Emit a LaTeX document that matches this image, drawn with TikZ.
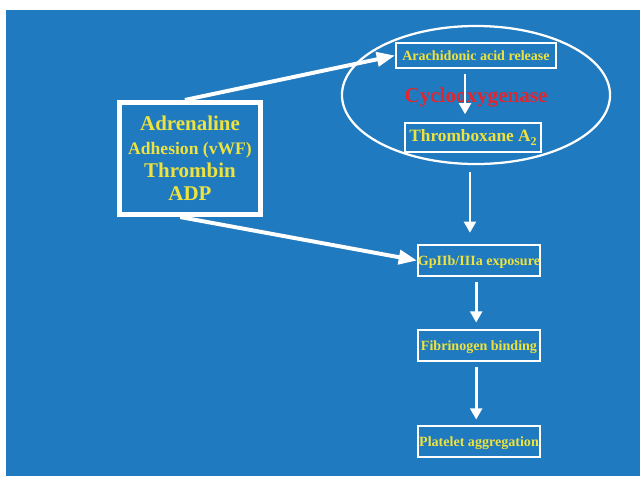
\documentclass[tikz,border=0pt]{standalone}
\usepackage{fontspec}
\setmainfont{Liberation Serif}
\usetikzlibrary{arrows.meta,shapes.geometric}
\definecolor{slideblue}{RGB}{31,122,191}
\definecolor{txtyellow}{RGB}{238,226,62}
\definecolor{coxred}{RGB}{226,38,48}
\begin{document}
\begin{tikzpicture}[x=0.025cm, y=-0.025cm,
  box/.style={draw=white, line width=1.4pt, inner sep=0pt, minimum width=3.05cm, minimum height=0.775cm,
    text=txtyellow, font=\fontsize{10}{12}\selectfont\bfseries},
  bigbox/.style={draw=white, line width=3.6pt, minimum width=3.525cm, minimum height=2.8cm, align=center,
    text=txtyellow, font=\fontsize{14.9}{16.6}\selectfont\bfseries},
  ring/.style={ellipse, draw=white, line width=1.6pt, minimum width=6.7cm, minimum height=3.45cm, inner sep=0pt,
    text=coxred, font=\fontsize{15}{18}\selectfont\bfseries},
  arr/.style={draw=white, line width=1.9pt, -{Triangle[width=8.5pt, length=8pt]}},
  bigarr/.style={draw=white, line width=2.8pt, -{Triangle[width=10pt, length=13pt]}}
]
%% Slide background
\useasboundingbox (0,0) rectangle (640,476);
\fill[slideblue] (6,10) rectangle (640,476);

%% Cyclooxygenase pathway
\node[ring, text depth=0pt] (cox) at (476,95) {Cyclooxygenase};
\node[box, minimum width=4cm, minimum height=0.625cm] (arach) at (476,55.5) {Arachidonic acid release};
\node[box, minimum width=3.4cm, minimum height=0.725cm, font=\fontsize{12.3}{14}\selectfont\bfseries] (txa) at (473,137.5)
  {Thromboxane A\raisebox{-0.45ex}{\fontsize{8.5}{9}\selectfont 2}};

%% Activation chain
\node[box, text depth=0pt] (gp)  at (479,260.5) {GpIIb/IIIa exposure};
\node[box, text depth=0pt] (fib) at (479,345.5) {Fibrinogen binding};
\node[box, text depth=0pt] (plt) at (479,441.5) {Platelet aggregation};

%% Agonists
\node[bigbox] (agon) at (190,158.5) {Adrenaline\\{\fontsize{12.5}{16.6}\selectfont Adhesion (vWF)}\\Thrombin\\ADP};

%% Arrows
\draw[bigarr] ([xshift=-3.6pt]agon.north) -- (arach.west);
\draw[bigarr] ([xshift=-7pt]agon.south) -- (gp.west);
\draw[arr, shorten <=3.5pt, shorten >=5.5pt] ([xshift=-7.8pt]arach.south) -- ([xshift=-7.8pt]arach.south |- txa.north);
\draw[arr, shorten <=5pt, shorten >=8pt] ([xshift=-4.3pt]cox.south) -- ([xshift=-4.3pt]cox.south |- gp.north);
\draw[arr, shorten <=3.9pt, shorten >=4.6pt] ([xshift=-2pt]gp.south) -- ([xshift=-2pt]fib.north);
\draw[arr, shorten <=3.9pt, shorten >=3.9pt] ([xshift=-2pt]fib.south) -- ([xshift=-2pt]plt.north);
\end{tikzpicture}
\end{document}
